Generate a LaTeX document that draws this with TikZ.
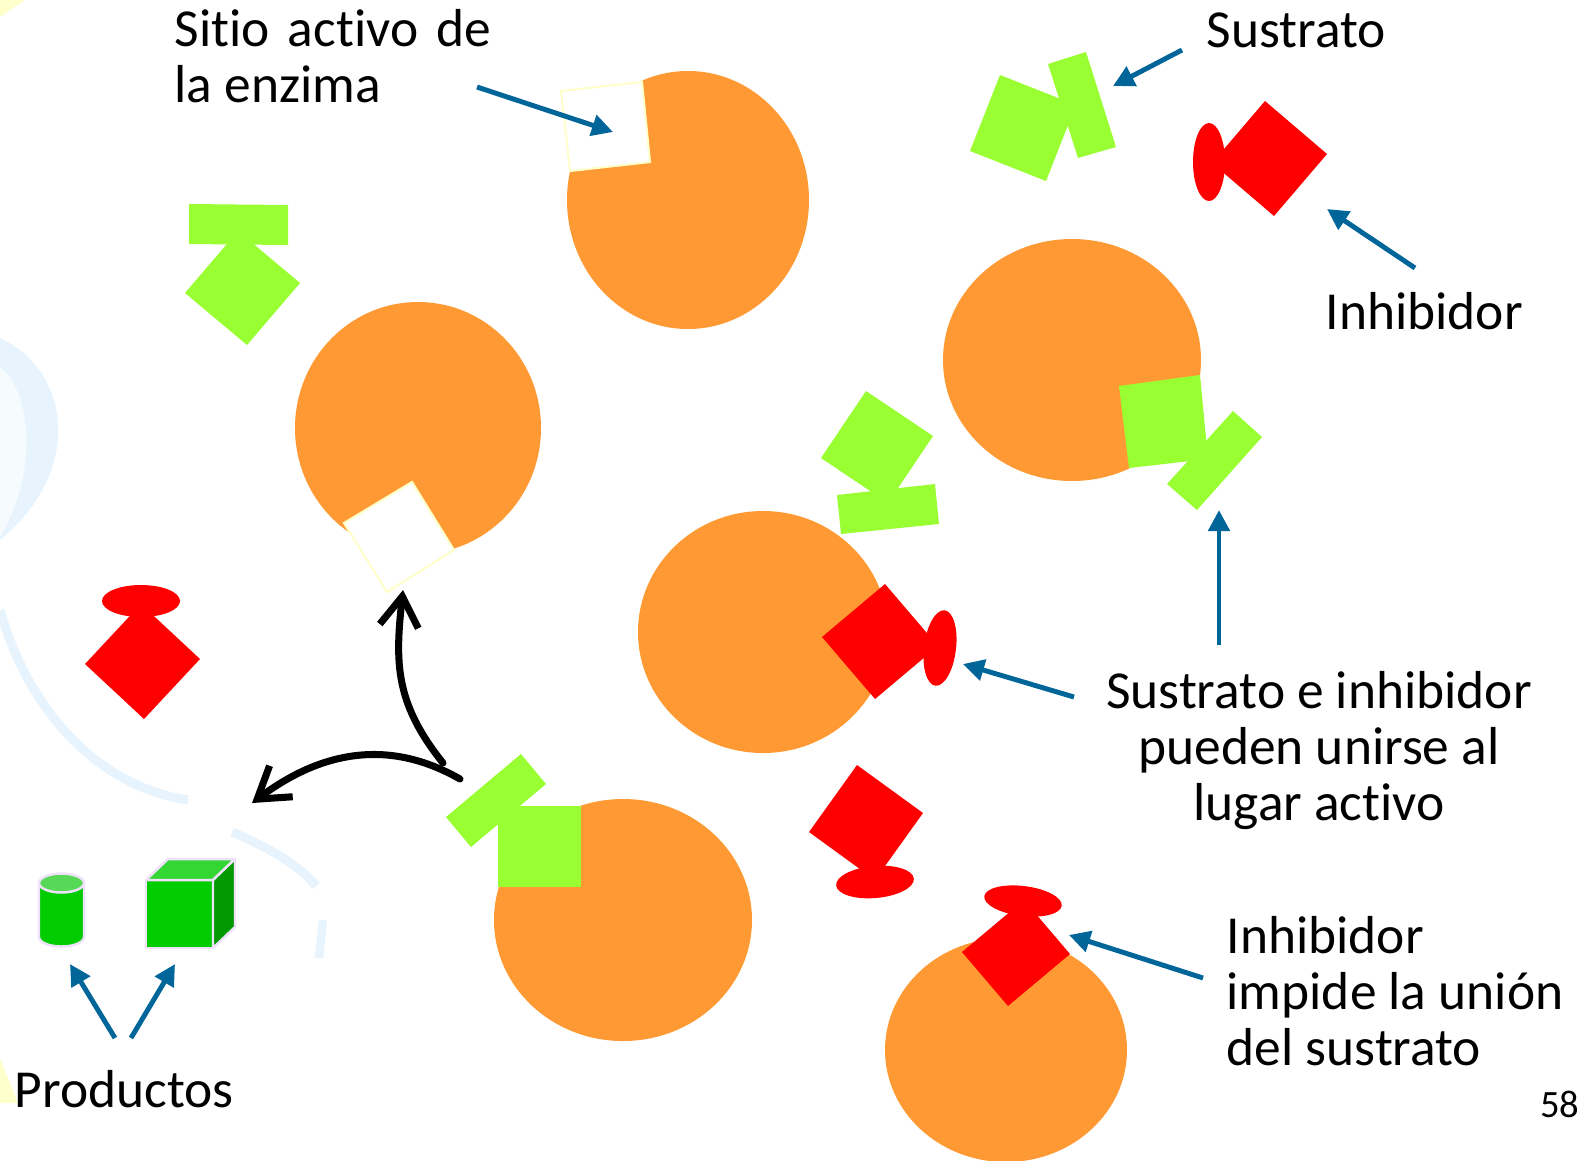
\documentclass[tikz,border=0pt]{standalone}
\usepackage{fontspec}
\setmainfont{Carlito}[Ligatures=NoCommon]
\usepackage{tikz}
\usetikzlibrary{arrows.meta}
\definecolor{naranja}{RGB}{255,153,51}
\definecolor{verde}{RGB}{153,255,51}
\definecolor{rojo}{RGB}{255,0,0}
\definecolor{azul}{RGB}{0,102,153}
\definecolor{amarillo}{RGB}{255,255,204}
\definecolor{lila}{RGB}{240,225,250}
\definecolor{halo}{RGB}{232,244,253}
\tikzset{
    enzima/.style={fill=naranja},
    sustrato/.style={fill=verde},
    inhibidor/.style={fill=rojo},
    sitio/.style={fill=white,draw=amarillo,line width=0.6pt},
    producto/.style={draw=lila,line width=0.7pt,line join=round},
    flecha/.style={draw=azul,line width=1.4pt,-{Triangle[length=6pt,width=6pt]}},
    giro/.style={draw=black,line width=2pt,line cap=round,-{Straight Barb[length=8.5pt,width=11pt]}},
    etiqueta/.style={inner sep=0pt,font=\fontsize{15.2}{15.9}\selectfont}
}

\begin{document}
\begin{tikzpicture}[x=0.01cm,y=-0.01cm]
    \useasboundingbox (0,0) rectangle (1585,1160);

    \fill[halo] (0,338) .. controls (70,370) and (85,470) .. (0,540) -- cycle;
    \fill[halo!40!white] (0,367) .. controls (30,390) and (40,470) .. (0,537) -- cycle;
    \draw[halo,line width=2.6pt] (0,610) .. controls (25,700) and (90,785) .. (188,800);
    \draw[halo,line width=2.6pt] (232,832) .. controls (270,848) and (300,866) .. (316,886);
    \draw[halo,line width=2.4pt] (323,920) -- (319,958);
    \fill[amarillo] (0,0) -- (25,0) -- (0,17) -- cycle;
    \fill[amarillo] (0,1058) -- (18,1103) -- (0,1103) -- cycle;

    \fill[enzima] (688,200) ellipse [x radius=121, y radius=129];
    \filldraw[sitio] (561,91) -- (642,82) -- (650,162) -- (570,171) -- cycle;

    \fill[enzima] (418,428) ellipse [x radius=123, y radius=126];
    \filldraw[sitio] (412,482) -- (454,550) -- (387,592) -- (344,523) -- cycle;

    \fill[enzima] (1072,360) ellipse [x radius=129, y radius=121];
    \fill[sustrato] (1119,386) -- (1200,375) -- (1208,459) -- (1129,468) -- cycle;
    \fill[sustrato] (1233,411) -- (1262,437) -- (1197,510) -- (1167,484) -- cycle;

    \fill[enzima] (763,632) ellipse [x radius=125, y radius=121];
    \fill[inhibidor] (822,637) -- (885,584) -- (938,646) -- (875,699) -- cycle;
    \fill[inhibidor, rotate around={-7:(940,648)}] (940,648) ellipse [x radius=16, y radius=38];

    \fill[sustrato] (866,391) -- (933,436) -- (888,503) -- (821,458) -- cycle;
    \fill[sustrato] (837,495) -- (935,484) -- (939,524) -- (841,534) -- cycle;

    \fill[enzima] (623,920) ellipse [x radius=129, y radius=121];
    \fill[sustrato] (498,806) rectangle (581,887);
    \fill[sustrato] (446,817) -- (521,754) -- (546,784) -- (471,847) -- cycle;

    \fill[enzima] (1006,1050) ellipse [x radius=121, y radius=112];
    \fill[inhibidor] (962,952) -- (1024,900) -- (1070,954) -- (1008,1006) -- cycle;
    \fill[inhibidor, rotate around={-7:(1023,901)}] (1023,901) ellipse [x radius=39, y radius=15];

    \fill[inhibidor] (809,832) -- (857,765) -- (923,813) -- (875,880) -- cycle;
    \fill[inhibidor, rotate around={5:(875,882)}] (875,882) ellipse [x radius=39, y radius=16];

    \fill[sustrato] (1000,75) -- (1076,105) -- (1046,181) -- (970,151) -- cycle;
    \fill[sustrato] (1048,64) -- (1086,52) -- (1116,147) -- (1078,158) -- cycle;

    \fill[inhibidor] (1212,163) -- (1265,101) -- (1327,154) -- (1274,216) -- cycle;
    \fill[inhibidor] (1209,162) ellipse [x radius=16, y radius=39];

    \fill[sustrato] (189,204) -- (288,205) -- (288,245) -- (189,244) -- cycle;
    \fill[sustrato] (185,293) -- (238,231) -- (300,283) -- (247,345) -- cycle;

    \fill[inhibidor] (141,601) ellipse [x radius=39, y radius=16];
    \fill[inhibidor] (85,664) -- (141,604) -- (200,659) -- (144,719) -- cycle;

    \filldraw[producto,fill=green!80!black] (39,883) -- (39,937)
        arc [start angle=180, end angle=0, x radius=22.5, y radius=9.5] -- (84,883) -- cycle;
    \filldraw[producto,fill=green!60!white!85!black] (61.5,883) ellipse [x radius=22.5, y radius=9.5];
    \filldraw[producto,fill=green!80!black] (146,880) rectangle (213,948);
    \filldraw[producto,fill=green!80!black!80!white] (146,880) -- (168,859) -- (235,859) -- (213,880) -- cycle;
    \filldraw[producto,fill=green!60!black] (213,880) -- (235,859) -- (235,927) -- (213,948) -- cycle;

    \node[etiqueta,anchor=base west,align=left] (sitio) at (174,102)
        {Sitio\hspace{0.34em}activo\hspace{0.34em}de\\la enzima};
    \node[etiqueta,anchor=base west] (sustrato) at (1206,47) {Sustrato};
    \node[etiqueta,anchor=base west] (inhibidor) at (1325,329) {Inhibidor};
    \node[etiqueta,anchor=base,align=center] (ambos) at (1319,820) {Sustrato e inhibidor\\pueden unirse al\\lugar activo};
    \node[etiqueta,anchor=base west,align=left] (impide) at (1226,1065) {Inhibidor\\impide la unión\\del sustrato};
    \node[etiqueta,anchor=base west] (productos) at (14,1107) {Productos};
    \node[inner sep=0pt,anchor=base east,font=\fontsize{11}{13}\selectfont] (pagina) at (1580,1117) {58};

    \coordinate (sitio-a) at (477,87);
    \coordinate (sitio-b) at (613,132);
    \coordinate (sustrato-a) at (1182,50);
    \coordinate (sustrato-b) at (1113,86);
    \coordinate (inhibidor-a) at (1415,268);
    \coordinate (inhibidor-b) at (1327,209);
    \coordinate (ambos-a) at (1074,697);
    \coordinate (ambos-b) at (963,664);
    \coordinate (ambos-c) at (1219,645);
    \coordinate (ambos-d) at (1219,510);
    \coordinate (impide-a) at (1203,978);
    \coordinate (impide-b) at (1069,935);
    \coordinate (prod-a) at (115,1038);
    \coordinate (prod-b) at (70,964);
    \coordinate (prod-c) at (131,1038);
    \coordinate (prod-d) at (175,964);

    \draw[flecha] (sitio-a) -- (sitio-b);
    \draw[flecha] (sustrato-a) -- (sustrato-b);
    \draw[flecha] (inhibidor-a) -- (inhibidor-b);
    \draw[flecha] (ambos-a) -- (ambos-b);
    \draw[flecha] (ambos-c) -- (ambos-d);
    \draw[flecha] (impide-a) -- (impide-b);
    \draw[flecha] (prod-a) -- (prod-b);
    \draw[flecha] (prod-c) -- (prod-d);

    \coordinate (liberada) at (460,779);
    \coordinate (regreso) at (443,763);
    \coordinate (vacio) at (403,590);
    \coordinate (salida) at (252,803);
    \draw[giro] (liberada) .. controls (390,739) and (323,750) .. (salida);
    \draw[giro] (regreso) .. controls (395,703) and (395,663) .. (vacio);
\end{tikzpicture}
\end{document}
